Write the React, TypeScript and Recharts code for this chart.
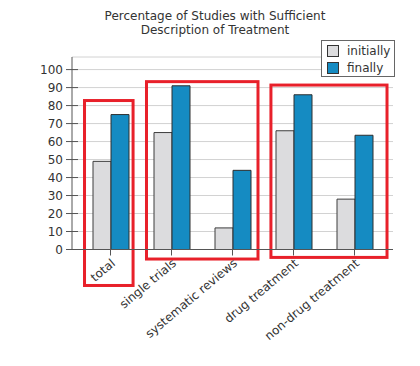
import React from "react";
import { BarChart, Bar, XAxis, YAxis, CartesianGrid, ReferenceArea, Legend } from "recharts";

const categories = ["total", "single trials", "systematic reviews", "drug treatment", "non-drug treatment"];
const initially = [49, 65, 12, 66, 28];
const finally_ = [75, 91, 44, 86, 63.5];
const yTicks = [0, 10, 20, 30, 40, 50, 60, 70, 80, 90, 100];
const seriesNames = ["initially", "finally"];
const seriesColors = ["#dcdcde", "#158bc2"];

// annotation boxes: first/last category covered, inset as fraction of a band, y extent in percent
const boxFrom = ["total", "single trials", "drug treatment"];
const boxTo = ["total", "systematic reviews", "non-drug treatment"];
const boxInsetL = [0.074, 0.09, 0.13];
const boxInsetR = [0.13, 0.082, -0.033];
const boxY1 = [-20, -5.3, -4.4];
const boxY2 = [82.8, 93.3, 91.4];

const data = categories.map((c, i) => ({ name: c, initially: initially[i], finally: finally_[i] }));
const boxes = boxFrom.map((f, i) => ({
  x1: f,
  x2: boxTo[i],
  y1: boxY1[i],
  y2: boxY2[i],
  span: categories.indexOf(boxTo[i]) - categories.indexOf(f) + 1,
  l: boxInsetL[i],
  r: boxInsetR[i],
}));

const FONT = "'DejaVu Sans', Verdana, sans-serif";
const TXT = "#333";

const YTick = (props: any) => {
  const { x, y, payload } = props;
  const ax = x + 3 + 6;
  return (
    <g>
      <line x1={ax - 6} x2={ax + 6} y1={y} y2={y} stroke="#555" strokeWidth={1} />
      <text x={x} y={y} dy="0.35em" textAnchor="end" fontSize={12} fontFamily={FONT} fill={TXT}>
        {payload.value}
      </text>
    </g>
  );
};

const XTick = (props: any) => {
  const { x, y, payload } = props;
  return (
    <g transform={`translate(${x + 5.5},${y + 7}) rotate(-40)`}>
      <text x={0} y={0} textAnchor="end" fontSize={12} fontFamily={FONT} fill={TXT}>
        {payload.value}
      </text>
    </g>
  );
};

const makeBoxShape = (span: number, l: number, r: number) => (props: any) => {
  const { x, y, width, height } = props;
  const band = width / span;
  const left = x + l * band;
  const right = x + width - r * band;
  const top = Math.min(y, y + height);
  const h = Math.abs(height);
  return <rect x={left} y={top} width={right - left} height={h} fill="none" stroke="#e8202a" strokeWidth={3} />;
};

const LegendContent = () => (
  <div
    style={{
      width: 72,
      height: 35,
      border: "1px solid #666",
      background: "#fff",
      fontFamily: FONT,
      fontSize: 12,
      color: TXT,
      boxSizing: "content-box",
    }}
  >
    {seriesNames.map((n, i) => (
      <div key={n} style={{ display: "flex", alignItems: "center", height: 17, marginTop: i === 0 ? 1 : 0 }}>
        <svg width={12} height={12} style={{ marginLeft: 5, marginRight: 8 }}>
          <rect x={0.5} y={0.5} width={11} height={11} fill={seriesColors[i]} stroke="#333" />
        </svg>
        <span>{n}</span>
      </div>
    ))}
  </div>
);

export default function App() {
  return (
    <div style={{ position: "absolute", left: 0, top: 0, width: 420, height: 366, background: "#fff" }}>
      <div
        style={{
          position: "absolute",
          left: 0,
          top: 9,
          width: 430,
          textAlign: "center",
          fontFamily: FONT,
          fontSize: 12,
          lineHeight: "14px",
          color: TXT,
        }}
      >
        Percentage of Studies with Sufficient
        <br />
        Description of Treatment
      </div>
      <BarChart
        width={420}
        height={366}
        data={data}
        margin={{ top: 57, right: 27, bottom: 16.5, left: 0 }}
        barGap={0}
        barSize={18}
      >
        <CartesianGrid vertical={false} stroke="#d2d2d2" />
        <XAxis
          dataKey="name"
          interval={0}
          height={100}
          padding={{ left: 8, right: 8 }}
          stroke="#555"
          tickSize={6}
          tickMargin={2}
          tick={<XTick />}
        />
        <YAxis
          domain={[0, 107]}
          ticks={yTicks}
          interval={0}
          width={72}
          stroke="#555"
          tickSize={6}
          tickMargin={3}
          tickLine={false}
          tick={<YTick />}
          allowDataOverflow
        />
        <Bar dataKey="initially" fill={seriesColors[0]} stroke="#3c3c3c" strokeWidth={1} isAnimationActive={false} />
        <Bar dataKey="finally" fill={seriesColors[1]} stroke="#2e2e2e" strokeWidth={1} isAnimationActive={false} />
        {boxes.map((b, i) => (
          <ReferenceArea
            key={i}
            x1={b.x1}
            x2={b.x2}
            y1={b.y1}
            y2={b.y2}
            ifOverflow="visible"
            shape={makeBoxShape(b.span, b.l, b.r)}
          />
        ))}
        <Legend
          layout="horizontal"
          verticalAlign="middle"
          align="center"
          content={<LegendContent />}
          wrapperStyle={{ position: "absolute", left: 321, top: 40, width: 74, height: 37 }}
        />
      </BarChart>
    </div>
  );
}
